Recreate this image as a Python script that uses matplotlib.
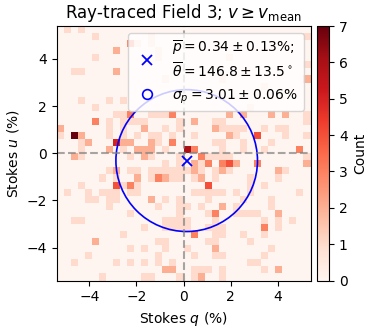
import numpy as np
import matplotlib
matplotlib.use("Agg")
import matplotlib.pyplot as plt

# histogram bins in percent, 36 x 36
edges = np.linspace(-5.4, 5.4, 37)

# non-zero counts per row, top row first, {column: count}
rows = [
    {1: 1, 3: 1},
    {5: 1, 13: 1, 35: 1},
    {10: 3, 11: 1, 13: 1},
    {8: 2, 14: 1},
    {5: 1, 14: 1, 24: 1},
    {35: 1},
    {2: 1, 3: 1, 8: 2},
    {15: 1, 23: 1, 35: 2},
    {29: 1},
    {},
    {3: 1, 7: 1, 9: 1},
    {5: 1, 27: 1},
    {8: 1, 9: 1, 10: 3, 13: 1, 14: 1, 15: 1, 16: 3, 24: 2, 26: 2, 30: 2, 32: 2, 35: 1},
    {5: 3, 7: 1, 9: 1, 10: 1, 11: 1, 12: 1, 17: 1, 19: 2, 22: 1, 23: 1, 35: 1},
    {0: 2, 7: 1, 9: 1, 12: 2, 15: 1, 17: 1, 22: 2, 23: 1, 24: 1, 25: 1, 26: 1, 29: 1, 31: 1, 32: 1},
    {0: 1, 2: 7, 3: 2, 7: 1, 9: 1, 11: 1, 13: 1, 14: 1, 16: 1, 19: 1, 24: 2, 25: 1, 28: 4, 32: 1, 35: 1},
    {3: 1, 4: 2, 8: 5, 9: 2, 10: 2, 13: 2, 14: 1, 16: 3, 22: 1, 23: 1, 26: 1, 30: 1},
    {3: 1, 7: 2, 9: 1, 11: 2, 12: 2, 13: 2, 15: 1, 18: 6, 19: 3, 23: 1, 26: 1, 29: 1, 34: 3},
    {2: 2, 3: 1, 10: 1, 12: 2, 13: 1, 17: 1, 20: 3, 21: 1, 22: 1, 23: 1, 24: 1, 35: 1},
    {15: 1, 17: 1, 19: 2, 20: 1, 21: 3, 23: 3, 24: 4, 25: 2, 28: 3, 35: 2},
    {7: 1, 8: 2, 10: 1, 11: 1, 13: 1, 14: 1, 15: 1, 16: 1, 17: 1, 18: 1, 19: 2, 20: 1, 22: 1, 23: 2, 24: 1, 31: 2, 32: 1},
    {6: 1, 8: 1, 11: 2, 13: 1, 14: 3, 15: 2, 16: 1, 17: 1, 19: 1, 20: 2, 22: 1, 27: 1, 31: 1},
    {3: 1, 8: 4, 9: 1, 10: 3, 11: 1, 21: 4, 27: 1, 29: 1},
    {1: 1, 4: 1, 6: 1, 7: 1, 8: 1, 10: 1, 11: 1, 19: 1, 20: 1, 21: 1, 22: 1, 23: 1, 25: 1, 27: 1, 34: 1},
    {4: 1, 5: 1, 7: 1, 8: 1, 13: 2, 15: 1, 17: 1, 21: 1, 26: 1, 30: 1},
    {7: 1, 14: 1, 17: 1, 18: 1, 20: 1, 23: 2, 25: 1, 30: 1},
    {10: 1, 17: 1, 21: 1, 22: 3, 25: 1, 26: 1, 27: 1, 28: 1, 31: 2},
    {2: 1, 3: 1, 15: 1, 16: 1, 17: 1, 18: 1, 22: 1, 29: 1, 31: 1, 33: 1},
    {12: 1, 15: 1, 16: 1, 17: 1, 18: 1, 21: 1, 22: 1, 23: 1, 29: 3, 31: 1},
    {9: 1, 19: 3, 22: 1, 23: 1, 26: 1, 29: 1},
    {5: 2, 14: 1, 15: 1, 21: 1, 22: 1, 27: 1},
    {10: 1, 12: 1, 15: 1, 18: 1, 22: 2, 30: 1},
    {4: 1, 14: 1, 19: 1, 22: 1, 23: 1, 29: 1},
    {2: 1, 8: 1, 10: 1, 12: 1, 14: 1, 16: 1, 27: 1, 28: 1},
    {15: 2, 16: 2, 19: 1, 20: 1, 21: 1, 23: 1, 29: 1, 31: 2},
    {6: 1, 12: 1, 13: 1, 17: 1, 19: 1, 20: 2, 23: 1},
]

p_mean = 0.34
theta_mean = 146.8
sigma_p = 3.01

counts = np.zeros((36, 36))
for r, row in enumerate(rows):
    for c, n in row.items():
        counts[35 - r, c] = n

q_mean = p_mean * np.cos(2 * np.radians(theta_mean))
u_mean = p_mean * np.sin(2 * np.radians(theta_mean))

fig = plt.figure(figsize=(3.89, 3.30), dpi=100)
ax = fig.add_axes([56.5 / 389, 1 - 280.5 / 330, 254 / 389, 254.5 / 330])
cax = fig.add_axes([316.5 / 389, 1 - 280.5 / 330, 12.7 / 389, 254.5 / 330])

mesh = ax.pcolormesh(edges, edges, counts, cmap="Reds", vmin=0, vmax=7)
ax.axhline(0, color="gray", ls="--", lw=1.5, alpha=0.7)
ax.axvline(0, color="gray", ls="--", lw=1.5, alpha=0.7)

# two line label so the cross sits between the p and theta lines
ax.plot(q_mean, u_mean, "x", color="blue", ms=6.5, mew=1.3, ls="none",
        label=r"$\overline{p} = %.2f \pm 0.13\%%$;" % p_mean + "\n"
        + r"$\overline{\theta} = %.1f \pm 13.5^\circ$" % theta_mean)
ax.add_patch(plt.Circle((q_mean, u_mean), sigma_p, fill=False, color="blue", lw=1.2))
ax.plot([], [], "o", mfc="none", mec="blue", ms=7, mew=1.2, ls="none",
        label=r"$\sigma_p = %.2f \pm 0.06\%%$" % sigma_p)

handles, labels = ax.get_legend_handles_labels()
leg = ax.legend(handles, labels, loc="upper right", fontsize=10, framealpha=0.8)

ax.set_xlim(-5.4, 5.4)
ax.set_ylim(-5.4, 5.4)
ax.set_xticks([-4, -2, 0, 2, 4])
ax.set_yticks([-4, -2, 0, 2, 4])
ax.set_xlabel("Stokes $q$ (%)")
ax.set_ylabel("Stokes $u$ (%)")
ax.set_title(r"Ray-traced Field 3; $v \geq v_\mathrm{mean}$", fontsize=12)

cbar = fig.colorbar(mesh, cax=cax)
cbar.set_label("Count")

fig.savefig("out.png", dpi=100)
